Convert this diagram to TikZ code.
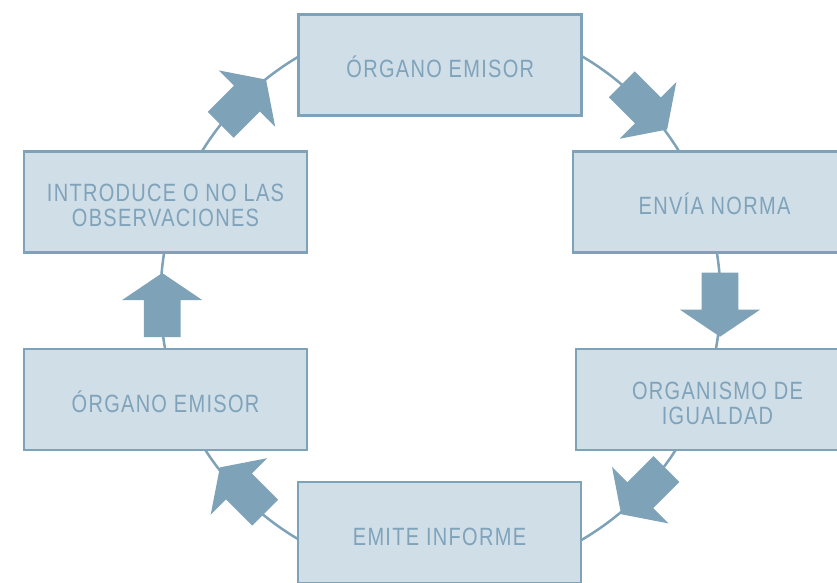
\documentclass[tikz,border=0pt]{standalone}
\usepackage{fontspec}
\setmainfont{Liberation Sans}[LetterSpace=5.2,FakeStretch=0.8]
\usetikzlibrary{calc}
\definecolor{arrowc}{HTML}{7EA2B8}
\definecolor{boxfill}{HTML}{D0DEE8}
\definecolor{textc}{HTML}{7FA3BA}
\begin{document}
\begin{tikzpicture}[x=1pt,y=-1pt,
  stagebox/.style={draw=arrowc, fill=boxfill, line width=2.9pt, minimum width=283pt, minimum height=101pt, inner sep=0pt, outer sep=0pt},
  stagetext/.style={text=textc, font=\fontsize{25}{29}\selectfont, anchor=base, inner sep=0pt},
  ring/.style={draw=arrowc, line width=2.5pt},
  blockarrow/.pic={\fill[arrowc] (-32,-18.3) -- (5,-18.3) -- (5,-40) -- (32,0) -- (5,40) -- (5,18.3) -- (-32,18.3) -- cycle;}]
\useasboundingbox (0,0) rectangle (837,582);
\clip (0,0) rectangle (837,582);
\fill[white] (0,0) rectangle (837,582);
\coordinate (c) at (440.5,298);
\draw[ring] (c) circle[radius=280];
% arrows
\pic[rotate=-45]  at (644.5,106.9) {blockarrow};
\pic[rotate=-90]  at (720,304.7)   {blockarrow};
\pic[rotate=-135] at (643.8,491.6) {blockarrow};
\pic[rotate=135]  at (242.5,490)   {blockarrow};
\pic[rotate=90]   at (162.2,305)   {blockarrow};
\pic[rotate=45]   at (243.4,102.2) {blockarrow};
% boxes
\node[stagebox] (top)       at (440.3,64.6)  {};
\node[stagebox] (envia)     at (714.5,202)   {};
\node[stagebox] (organismo) at (717.5,399.5) {};
\node[stagebox] (emite)     at (439.5,532.5) {};
\node[stagebox] (emisor)    at (165.5,399.5) {};
\node[stagebox] (introduce) at (165.5,202)   {};
% texts
\node[stagetext] (ttop)   at ($(top.center)+(0,13.2)$)       {ÓRGANO EMISOR};
\node[stagetext] (tenvia) at ($(envia.center)+(0,12.5)$)     {ENVÍA NORMA};
\node[stagetext] (torg1)  at ($(organismo.center)+(0,0)$)    {ORGANISMO DE};
\node[stagetext] (torg2)  at ($(organismo.center)+(0,24.5)$) {IGUALDAD};
\node[stagetext] (temite) at ($(emite.center)+(0,12.5)$)     {EMITE INFORME};
\node[stagetext] (temis)  at ($(emisor.center)+(0,12.5)$)    {ÓRGANO EMISOR};
\node[stagetext] (tint1)  at ($(introduce.center)+(0,-0.3)$) {INTRODUCE O NO LAS};
\node[stagetext] (tint2)  at ($(introduce.center)+(0,24.2)$) {OBSERVACIONES};
\end{tikzpicture}
\end{document}
